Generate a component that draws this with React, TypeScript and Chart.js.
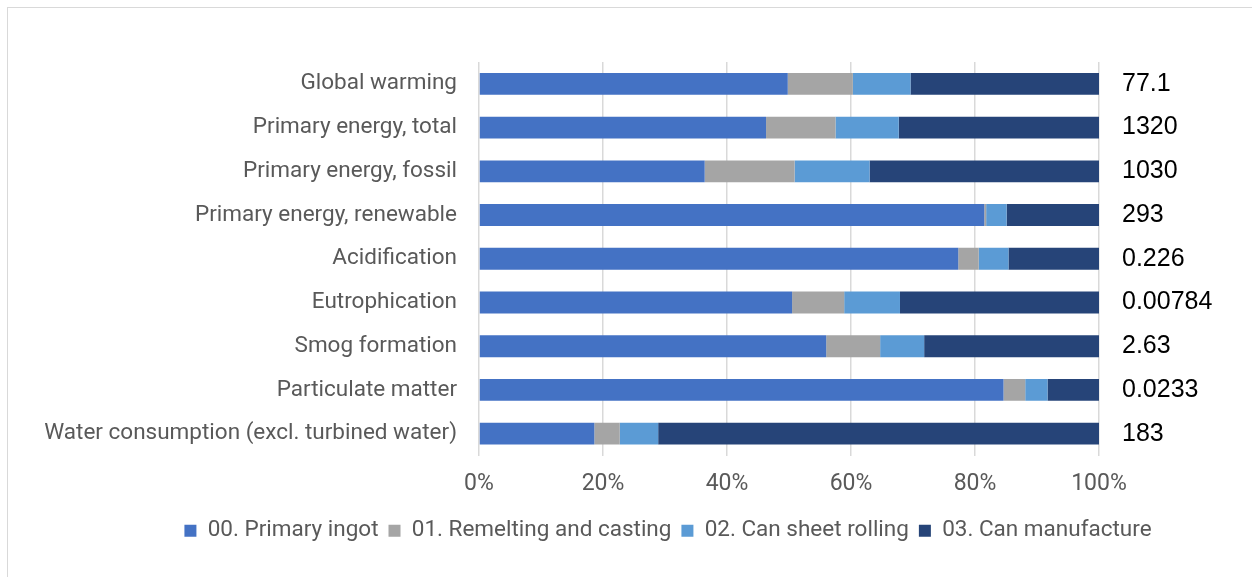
import React, { useEffect, useRef } from "react";
import { Chart, registerables } from "chart.js";

Chart.register(...registerables);

const categories = [
  "Global warming",
  "Primary energy, total",
  "Primary energy, fossil",
  "Primary energy, renewable",
  "Acidification",
  "Eutrophication",
  "Smog formation",
  "Particulate matter",
  "Water consumption (excl. turbined water)",
];
const totals = ["77.1", "1320", "1030", "293", "0.226", "0.00784", "2.63", "0.0233", "183"];

const primaryIngot = [49.8, 46.3, 36.4, 81.5, 77.3, 50.5, 56.0, 84.6, 18.6];
const remelting = [10.5, 11.2, 14.5, 0.3, 3.3, 8.4, 8.7, 3.5, 4.1];
const sheetRolling = [9.3, 10.2, 12.1, 3.3, 4.8, 9.0, 7.1, 3.6, 6.2];
const canManufacture = [30.4, 32.3, 37.0, 14.9, 14.6, 32.1, 28.2, 8.3, 71.1];

const seriesNames = [
  "00. Primary ingot",
  "01. Remelting and casting",
  "02. Can sheet rolling",
  "03. Can manufacture",
];
const seriesColors = ["#4472C4", "#A5A5A5", "#5B9BD5", "#264478"];

const labelFont = "Roboto, 'Noto Sans', sans-serif";

// shift the legend so it is centred a little right of the canvas centre
const legendShift = {
  id: "legendShift",
  afterLayout(chart: any) {
    if (chart.legend) {
      chart.legend.left = 84;
      chart.legend.right = chart.width;
    }
  },
};

export default function App() {
  const ref = useRef<HTMLCanvasElement>(null);
  useEffect(() => {
    if (!ref.current) return;
    const data = [primaryIngot, remelting, sheetRolling, canManufacture];
    const chart = new Chart(ref.current, {
      type: "bar",
      data: {
        labels: categories,
        datasets: data.map((d, i) => ({
          label: seriesNames[i],
          data: d,
          backgroundColor: seriesColors[i],
          borderWidth: 0,
          categoryPercentage: 1,
          barPercentage: 0.5,
          yAxisID: "y",
        })),
      },
      options: {
        indexAxis: "y",
        responsive: false,
        animation: false,
        layout: { padding: { top: 62, left: 0, right: 0, bottom: 25 } },
        scales: {
          x: {
            stacked: true,
            min: 0,
            max: 100,
            ticks: {
              stepSize: 20,
              callback: (v: any) => v + "%",
              color: "#595959",
              font: { family: labelFont, size: 23 },
              padding: 15,
            },
            grid: { color: "#D9D9D9", lineWidth: 1.5, drawTicks: false },
            border: { display: false },
            afterFit: (s: any) => {
              s.height = 54;
            },
          },
          y: {
            stacked: true,
            position: "left",
            ticks: {
              color: "#595959",
              font: { family: labelFont, size: 22.5 },
              padding: 22,
            },
            grid: { display: false, drawTicks: false },
            border: { display: false },
            afterFit: (s: any) => {
              s.width = 479;
            },
          },
          y2: {
            type: "category",
            position: "right",
            labels: totals,
            offset: true,
            ticks: {
              color: "#000000",
              font: { family: "'Liberation Sans', Arial, sans-serif", size: 25 },
              padding: 23,
            },
            grid: { display: false, drawTicks: false },
            border: { display: false },
            afterFit: (s: any) => {
              s.width = 153;
            },
          },
        },
        plugins: {
          legend: {
            position: "bottom",
            labels: {
              boxWidth: 12,
              boxHeight: 12,
              color: "#595959",
              font: { family: labelFont, size: 22.5 },
              padding: 10,
            },
          },
          tooltip: { enabled: false },
        },
      },
      plugins: [legendShift],
    });
    return () => chart.destroy();
  }, []);
  return (
    <div style={{ position: "absolute", left: 0, top: 0, width: 1252, height: 577, background: "#fff" }}>
      <div
        style={{
          position: "absolute",
          left: 7,
          top: 7,
          width: 1260,
          height: 580,
          border: "1px solid #D9D9D9",
        }}
      />
      <canvas ref={ref} width={1252} height={577} style={{ position: "absolute", left: 0, top: 0 }} />
    </div>
  );
}
